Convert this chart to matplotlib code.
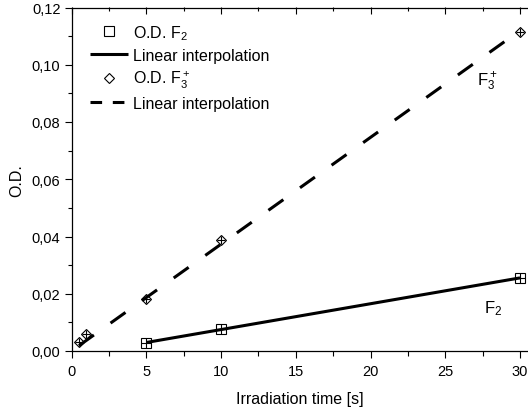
import numpy as np
import matplotlib
matplotlib.use("Agg")
import matplotlib.pyplot as plt
from matplotlib.ticker import MultipleLocator, FuncFormatter

plt.rcParams['font.family'] = ['Liberation Sans', 'DejaVu Sans']
plt.rcParams['mathtext.fontset'] = 'custom'
plt.rcParams['mathtext.rm'] = 'Liberation Sans'
plt.rcParams['mathtext.it'] = 'Liberation Sans'
plt.rcParams['mathtext.bf'] = 'Liberation Sans'

# Data
t_f2 = [5, 10, 30]
od_f2 = [0.0028, 0.0077, 0.0255]
t_f3 = [0.5, 1, 5, 10, 30]
od_f3 = [0.0032, 0.0058, 0.0182, 0.0389, 0.1114]

x_ticks = [0, 5, 10, 15, 20, 25, 30]
y_ticks = [0.00, 0.02, 0.04, 0.06, 0.08, 0.10, 0.12]

W, H = 528, 410
fig = plt.figure(figsize=(W / 100, H / 100), dpi=100)
ax = fig.add_axes([71.5 / W, 58 / H, 457.5 / W, 343.5 / H])

# linear fits
p2 = np.polyfit(t_f2, od_f2, 1)
x3 = np.array(t_f3)
y3 = np.array(od_f3)
slope3 = np.sum(x3 * y3) / np.sum(x3 * x3)   # fit through origin
xf2 = np.array([min(t_f2), max(t_f2)])
xf3 = np.array([min(t_f3), max(t_f3)])

lw = 2.2
ax.plot(xf2, np.polyval(p2, xf2), color='black', lw=lw, solid_capstyle='butt', zorder=2)
ax.plot(xf3, slope3 * xf3, color='black', lw=lw, dashes=(6, 6.7),
        dash_capstyle='butt', zorder=2)

ms = 7
ax.plot(t_f2, od_f2, ls='none', marker='s', ms=ms, mfc='none', mec='black', mew=0.8, zorder=3)
ax.plot(t_f2, od_f2, ls='none', marker='+', ms=ms, mec='black', mew=0.8, zorder=3)
ax.plot(t_f3, od_f3, ls='none', marker='D', ms=ms * 0.75, mfc='none', mec='black', mew=0.8, zorder=3)
ax.plot(t_f3, od_f3, ls='none', marker='+', ms=ms * 0.9, mec='black', mew=0.8, zorder=3)

# legend handles
h1, = ax.plot([], [], ls='none', marker='s', ms=ms, mfc='none', mec='black', mew=0.8)
h2, = ax.plot([], [], color='black', lw=lw, solid_capstyle='butt')
h3, = ax.plot([], [], ls='none', marker='D', ms=ms * 0.75, mfc='none', mec='black', mew=0.8)
h4, = ax.plot([], [], color='black', lw=lw, dashes=(3.8, 3.5), dash_capstyle='butt')
leg = ax.legend([h1, h2, h3, h4],
                ['O.D. F$_2$', 'Linear interpolation', 'O.D. F$_3^+$', 'Linear interpolation'],
                loc='upper left', bbox_to_anchor=(90 / W, 1 - 24 / H),
                bbox_transform=fig.transFigure, frameon=False, fontsize=11.5,
                handlelength=2.4, handletextpad=0.3, borderpad=0, borderaxespad=0,
                labelspacing=0.38)

ax.text(27.8, 0.0945, 'F$_3^+$', fontsize=12, ha='center', va='center')
ax.text(28.2, 0.0152, 'F$_2$', fontsize=12, ha='center', va='center')

ax.set_xlim(0, 30.6)
ax.set_ylim(0, 0.12)
ax.set_xticks(x_ticks)
ax.set_yticks(y_ticks)
ax.xaxis.set_minor_locator(MultipleLocator(2.5))
ax.yaxis.set_minor_locator(MultipleLocator(0.01))
ax.yaxis.set_major_formatter(FuncFormatter(lambda v, p: f"{v:.2f}".replace('.', ',')))

ax.tick_params(axis='both', which='major', labelsize=10.5, width=0.8, color='black')
ax.tick_params(axis='x', which='major', direction='out', length=5, top=False, pad=4.5)
ax.tick_params(axis='x', which='minor', direction='out', length=3.5, width=0.8, top=False)
ax.tick_params(axis='y', which='major', direction='out', length=5, pad=3)
ax.tick_params(axis='y', which='minor', direction='out', length=3, width=0.8)

# top inward ticks
sec = ax.secondary_xaxis('top')
sec.set_xticks(x_ticks)
sec.xaxis.set_minor_locator(MultipleLocator(2.5))
sec.tick_params(axis='x', which='major', direction='in', length=5, width=0.8, labeltop=False)
sec.tick_params(axis='x', which='minor', direction='in', length=3, width=0.8)
sec.set_xticklabels([])
sec.spines['top'].set_visible(False)

for s in ax.spines.values():
    s.set_linewidth(0.9)

ax.set_xlabel('Irradiation time [s]', fontsize=11.5, labelpad=9)
ax.set_ylabel('O.D.', fontsize=11.5, labelpad=5)

fig.savefig('out.png', dpi=100)
